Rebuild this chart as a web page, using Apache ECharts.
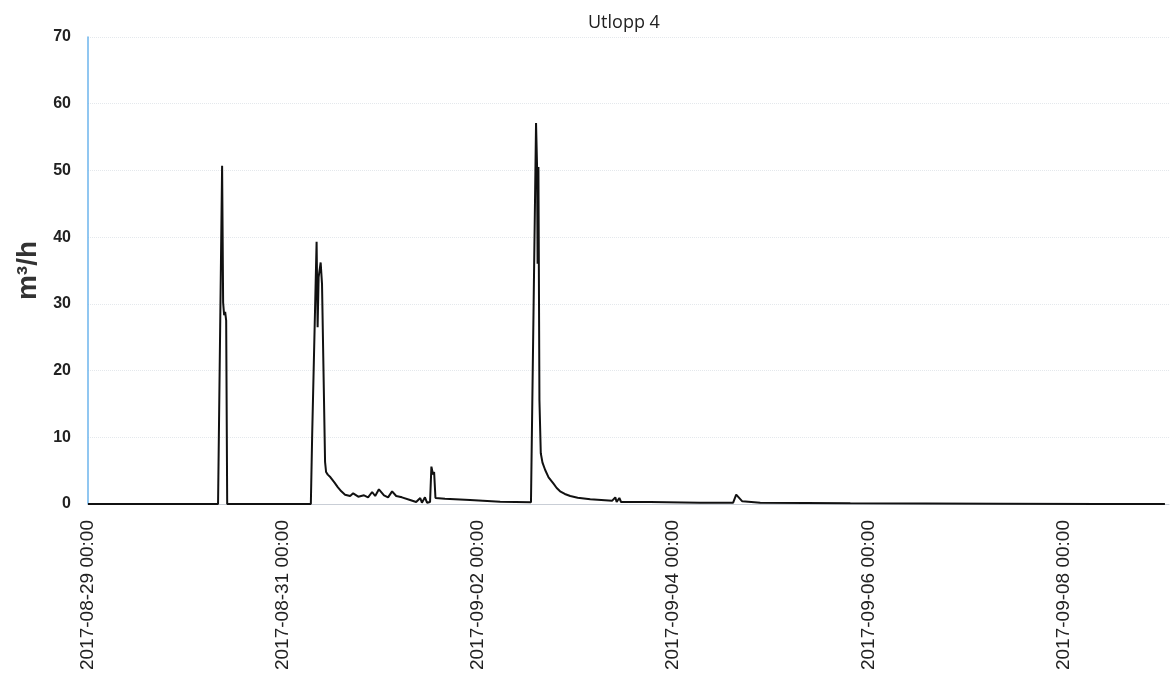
<!DOCTYPE html>
<html>
<head>
<meta charset="utf-8">
<title>Utlopp 4</title>
<script src="https://cdn.jsdelivr.net/npm/echarts@6/dist/echarts.min.js"></script>
<style>
  html, body { margin: 0; padding: 0; background: #fff; }
  #chart { width: 1171px; height: 686px; }
</style>
</head>
<body>
<div id="chart"></div>
<script>
// flow readings, m3/h
var times = [
  '2017-08-29 00:00', '2017-08-30 08:00', '2017-08-30 09:00', '2017-08-30 09:15', '2017-08-30 09:30',
  '2017-08-30 09:45', '2017-08-30 10:00', '2017-08-30 10:15', '2017-08-31 06:50', '2017-08-31 07:10',
  '2017-08-31 07:45', '2017-08-31 08:15', '2017-08-31 08:30', '2017-08-31 08:45', '2017-08-31 09:15',
  '2017-08-31 09:35', '2017-08-31 10:20', '2017-08-31 10:35', '2017-08-31 11:00', '2017-08-31 11:40',
  '2017-08-31 12:40', '2017-08-31 13:30', '2017-08-31 14:20', '2017-08-31 15:15', '2017-08-31 16:30',
  '2017-08-31 17:15', '2017-08-31 18:30', '2017-08-31 19:55', '2017-08-31 20:55', '2017-08-31 21:55',
  '2017-08-31 22:40', '2017-08-31 23:35', '2017-09-01 00:50', '2017-09-01 01:50', '2017-09-01 02:50',
  '2017-09-01 03:50', '2017-09-01 05:15', '2017-09-01 07:15', '2017-09-01 08:45', '2017-09-01 09:45',
  '2017-09-01 10:10', '2017-09-01 10:55', '2017-09-01 11:25', '2017-09-01 12:10', '2017-09-01 12:30',
  '2017-09-01 12:55', '2017-09-01 13:10', '2017-09-01 13:30', '2017-09-01 15:50', '2017-09-01 22:00',
  '2017-09-02 05:25', '2017-09-02 13:00', '2017-09-02 13:25', '2017-09-02 14:15', '2017-09-02 14:30',
  '2017-09-02 14:38', '2017-09-02 14:50', '2017-09-02 15:05', '2017-09-02 15:25', '2017-09-02 15:50',
  '2017-09-02 16:30', '2017-09-02 17:20', '2017-09-02 18:30', '2017-09-02 19:20', '2017-09-02 20:10',
  '2017-09-02 21:20', '2017-09-02 22:40', '2017-09-03 00:30', '2017-09-03 03:35', '2017-09-03 09:00',
  '2017-09-03 09:45', '2017-09-03 10:05', '2017-09-03 10:45', '2017-09-03 11:10', '2017-09-03 18:20',
  '2017-09-04 06:40', '2017-09-04 14:45', '2017-09-04 15:30', '2017-09-04 17:00', '2017-09-04 21:25',
  '2017-09-05 19:35', '2017-09-07 08:30', '2017-09-08 09:00', '2017-09-09 01:00'
];
var flow = [
  0, 0, 50.7, 30.2, 28.3,
  28.8, 27.5, 0, 0, 10.5,
  26, 39.3, 26.5, 34, 36.2,
  33, 6.3, 4.8, 4.4, 4.0,
  3.2, 2.5, 1.9, 1.4, 1.2,
  1.6, 1.1, 1.3, 1.0, 1.8,
  1.2, 2.2, 1.3, 1.0, 1.9,
  1.2, 1.0, 0.6, 0.3, 0.9,
  0.2, 1.0, 0.2, 0.3, 5.6,
  4.4, 4.8, 0.9, 0.8, 0.6,
  0.35, 0.25, 0, 57.1, 50.6,
  36, 50.5, 15.6, 7.6, 6.2,
  5.1, 4.0, 3.1, 2.4, 1.9,
  1.5, 1.2, 0.95, 0.7, 0.5,
  1.0, 0.3, 0.9, 0.3, 0.3,
  0.2, 0.2, 1.4, 0.4, 0.2,
  0.1, 0.05, 0, 0
];
var xStart = '2017-08-29 00:00';
var xEnd = '2017-09-09 02:00';
var yTicks = [0, 10, 20, 30, 40, 50, 60, 70];

var DAY = 86400000;

function toMs(s) {
  var p = s.split(/[- :]/);
  return Date.UTC(+p[0], +p[1] - 1, +p[2], +p[3], +p[4]);
}
function pad(n) { return n < 10 ? '0' + n : '' + n; }
function fmt(ms) {
  var d = new Date(ms);
  return d.getUTCFullYear() + '-' + pad(d.getUTCMonth() + 1) + '-' + pad(d.getUTCDate()) +
    ' ' + pad(d.getUTCHours()) + ':' + pad(d.getUTCMinutes());
}

var chart = echarts.init(document.getElementById('chart'));

var option = {
  backgroundColor: '#fff',
  animation: false,
  title: {
    text: 'Utlopp 4',
    left: 583,
    top: 9,
    textStyle: {
      fontFamily: 'Open Sans',
      fontWeight: 'normal',
      fontSize: 18,
      color: '#222'
    }
  },
  grid: {
    left: 88,
    right: 2,
    top: 37,
    bottom: 182
  },
  xAxis: {
    type: 'value',
    min: toMs(xStart),
    max: toMs(xEnd),
    interval: 2 * DAY,
    axisLine: {
      show: true,
      lineStyle: { color: '#c9ced6', width: 1 }
    },
    axisTick: { show: false },
    splitLine: { show: false },
    axisLabel: {
      rotate: 90,
      margin: 16,
      showMaxLabel: false,
      fontFamily: 'Liberation Sans',
      fontSize: 19,
      color: '#222',
      formatter: function (v) { return fmt(v); }
    }
  },
  yAxis: {
    type: 'value',
    min: yTicks[0],
    max: yTicks[yTicks.length - 1],
    interval: 10,
    name: 'm³/h',
    nameLocation: 'middle',
    nameRotate: 90,
    nameGap: 44,
    nameTextStyle: {
      fontFamily: 'Liberation Sans',
      fontWeight: 'bold',
      fontSize: 28,
      color: '#333'
    },
    axisLine: {
      show: true,
      lineStyle: { color: '#6cb4ec', width: 1.5 }
    },
    axisTick: { show: false },
    axisLabel: {
      margin: 17,
      fontFamily: 'Liberation Sans',
      fontWeight: 'bold',
      fontSize: 16,
      color: '#222'
    },
    splitLine: {
      show: true,
      lineStyle: { color: '#e4e8ec', type: 'dotted', width: 1 }
    }
  },
  series: [
    {
      name: 'Utlopp 4',
      type: 'line',
      showSymbol: false,
      symbol: 'none',
      lineStyle: { color: '#111', width: 2 },
      data: times.map(function (t, i) { return [toMs(t), flow[i]]; })
    }
  ]
};

chart.setOption(option);
</script>
</body>
</html>
